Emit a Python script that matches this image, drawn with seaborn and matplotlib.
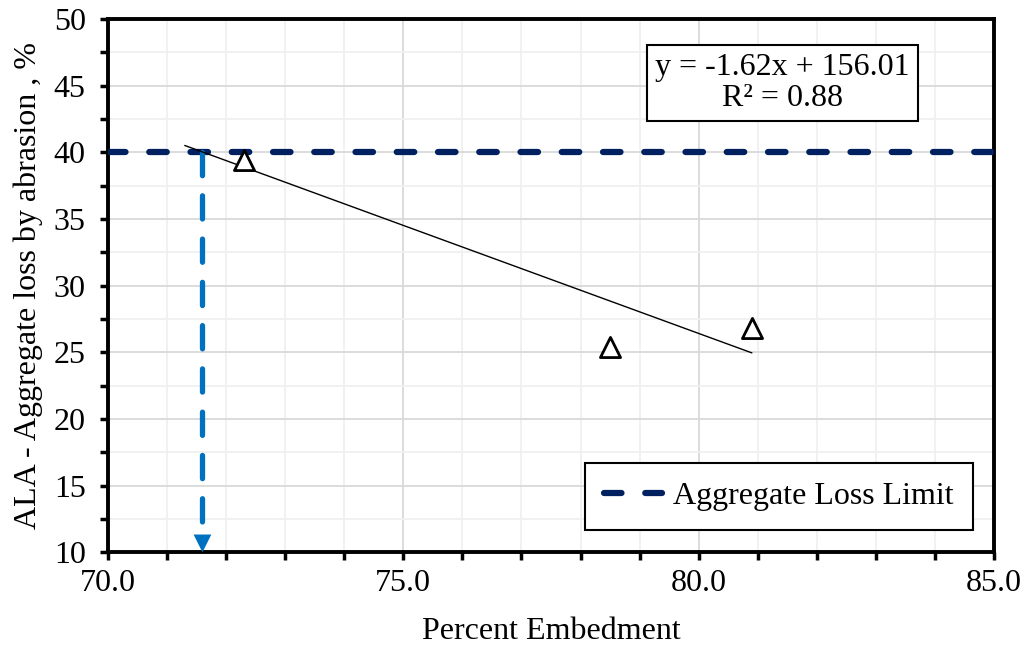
import numpy as np
import pandas as pd
import matplotlib
matplotlib.use('Agg')
import matplotlib.pyplot as plt
import seaborn as sns

# data
embedment = [72.3, 78.5, 80.9]
abrasion_loss = [39.4, 25.4, 26.8]
loss_limit = 40
limit_embedment = 71.6     # where the trend hits the limit
trend_start = 71.3
slope, intercept = -1.62, 156.01
r2 = 0.88

df = pd.DataFrame({'Percent Embedment': embedment, 'ALA': abrasion_loss})
trend_x = np.array([trend_start, max(embedment)])
trend = pd.DataFrame({'x': trend_x, 'y': slope * trend_x + intercept})

sns.set_style("whitegrid")
plt.rcParams['font.family'] = ['Liberation Serif', 'DejaVu Serif']
plt.rcParams['text.color'] = 'black'
plt.rcParams['axes.labelcolor'] = 'black'
plt.rcParams['xtick.color'] = 'black'
plt.rcParams['ytick.color'] = 'black'
fs = 23

fig = plt.figure(figsize=(10.28, 6.49), dpi=100)
ax = fig.add_axes([0.105, 0.149, 0.862, 0.822])

# limit line
ax.axhline(loss_limit, color='#002060', lw=4.5, dashes=(2.8, 3.8),
           dash_capstyle='round', label='Aggregate Loss Limit', zorder=3)

# vertical arrow down to x axis
ax.plot([limit_embedment, limit_embedment], [loss_limit, 11.5], color='#0070C0',
        lw=3.8, dashes=(4.4, 3.8), dash_capstyle='round', zorder=3)
ax.annotate('', xy=(limit_embedment, 10), xytext=(limit_embedment, 12.2),
            arrowprops=dict(arrowstyle='-|>', color='#0070C0', lw=0,
                            mutation_scale=32, shrinkA=0, shrinkB=0), zorder=3)

sns.lineplot(data=trend, x='x', y='y', color='black', lw=1, ax=ax, zorder=4)
sns.scatterplot(data=df, x='Percent Embedment', y='ALA', marker='^', s=210,
                facecolor='white', edgecolor='black', linewidth=2, ax=ax, zorder=5)

ax.set_xlim(70, 85)
ax.set_ylim(10, 50)
ax.set_xticks([70, 75, 80, 85])
ax.set_xticklabels(['70.0', '75.0', '80.0', '85.0'], fontsize=fs)
ax.set_yticks(range(10, 51, 5))
ax.set_yticklabels([str(v) for v in range(10, 51, 5)], fontsize=fs)
ax.set_xticks(np.arange(70, 85.1, 1), minor=True)
ax.set_yticks(np.arange(10, 50.1, 2.5), minor=True)

ax.grid(which='major', color='#d9d9d9', lw=1.3)
ax.grid(which='minor', color='#f0f0f0', lw=1.3)
ax.tick_params(which='both', direction='out', length=6, width=2.5, color='black',
               bottom=True, left=True)
ax.tick_params(axis='x', which='both', pad=6)
ax.tick_params(axis='y', which='both', pad=10)
for s in ax.spines.values():
    s.set_color('black')
    s.set_linewidth(2.8)

ax.set_xlabel('Percent Embedment', fontsize=fs, labelpad=14)
ax.set_ylabel('ALA - Aggregate loss by abrasion , %', fontsize=fs, labelpad=8)

ax.text(0.761, 0.88, 'y = -1.62x + 156.01\nR² = 0.88', transform=ax.transAxes,
        ha='center', va='center', fontsize=fs, linespacing=1.1, zorder=6,
        bbox=dict(boxstyle='square,pad=0.25', fc='white', ec='black', lw=1.5))

handles, labels = ax.get_legend_handles_labels()
leg = ax.legend(handles[:1], labels[:1], loc='lower right', bbox_to_anchor=(0.976, 0.041),
                fontsize=fs, frameon=True, fancybox=False, handlelength=1.8,
                handletextpad=0.35, borderpad=0.6, borderaxespad=0, framealpha=1)
leg.get_frame().set_edgecolor('black')
leg.get_frame().set_linewidth(1.5)

fig.savefig('out.png', dpi=100)
